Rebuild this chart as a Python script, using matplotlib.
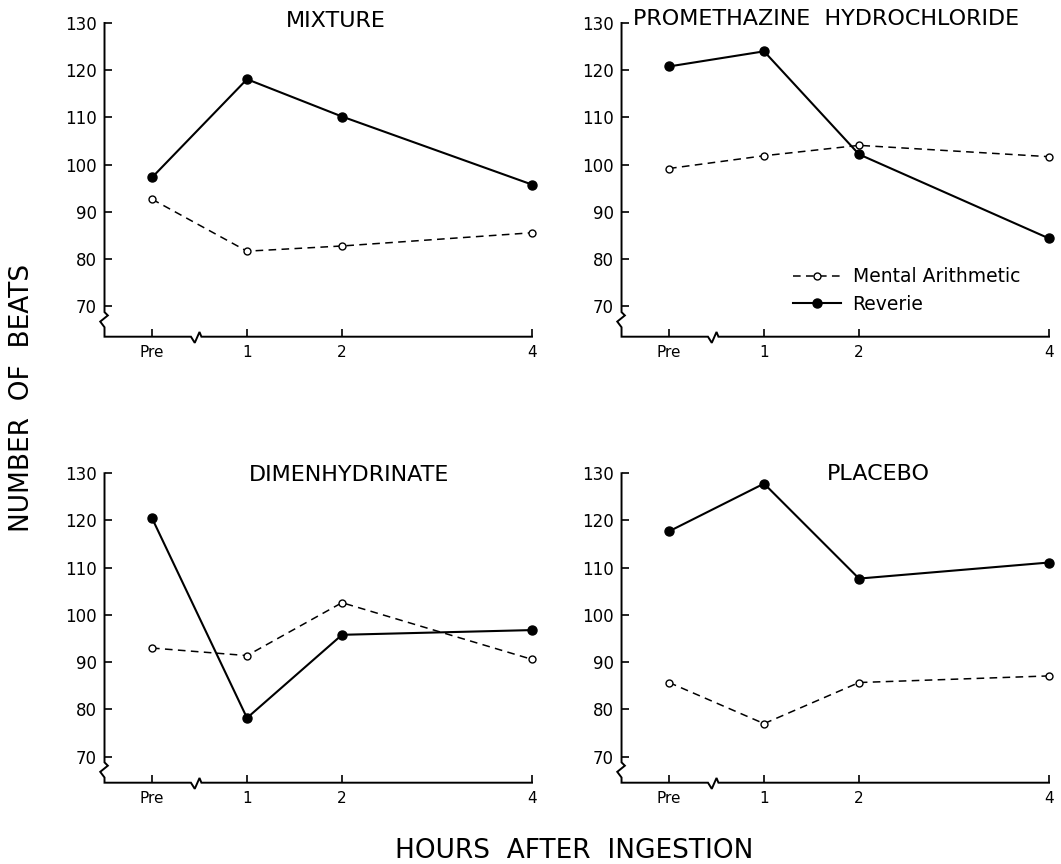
import matplotlib
matplotlib.use("Agg")
import matplotlib.pyplot as plt

hours = [0, 1, 2, 4]
hour_labels = ["Pre", "1", "2", "4"]
y_ticks = [70, 80, 90, 100, 110, 120, 130]

titles = ["MIXTURE", "PROMETHAZINE  HYDROCHLORIDE", "DIMENHYDRINATE", "PLACEBO"]

mixture_mental = [92.7, 81.7, 82.8, 85.6]
mixture_reverie = [97.3, 118.1, 110.2, 95.8]
prometh_mental = [99.2, 101.9, 104.1, 101.7]
prometh_reverie = [120.8, 124.0, 102.2, 84.4]
dimen_mental = [93.0, 91.4, 102.6, 90.6]
dimen_reverie = [120.5, 78.2, 95.8, 96.8]
placebo_mental = [85.7, 77.0, 85.7, 87.1]
placebo_reverie = [117.7, 127.8, 107.7, 111.1]

mental = [mixture_mental, prometh_mental, dimen_mental, placebo_mental]
reverie = [mixture_reverie, prometh_reverie, dimen_reverie, placebo_reverie]

plt.rcParams['font.family'] = ['DejaVu Sans']

fig = plt.figure(figsize=(10.61, 8.64), dpi=100)

# axes boxes [left, bottom, width, height] in figure fraction
boxes = [
    [0.0985, 0.6103, 0.4029, 0.3631],
    [0.5858, 0.6103, 0.4029, 0.3631],
    [0.0985, 0.0941, 0.4029, 0.3582],
    [0.5858, 0.0941, 0.4029, 0.3582],
]
ybottoms = [63.6, 63.6, 64.5, 64.5]
# title placement: (x, y, ha)
title_pos = [(1.94, 130.4, 'center'), (-0.38, 130.8, 'left'),
             (2.07, 129.7, 'center'), (2.2, 129.8, 'center')]

xl = -0.5
for i in range(4):
    ax = fig.add_axes(boxes[i])
    y0 = ybottoms[i]
    ax.set_xlim(xl, 4)
    ax.set_ylim(y0, 130)
    for s in ax.spines.values():
        s.set_visible(False)

    # hand-drawn axis frame with breaks
    fx = [xl, xl, xl + 0.035, xl - 0.045, xl, xl,
          0.41, 0.45, 0.50, 0.52, 4.0]
    fy = [130, 68.8, 68.1, 66.8, 65.6, y0,
          y0, y0 - 1.3, y0 + 1.0, y0, y0]
    ax.plot(fx, fy, color='black', lw=1.4, clip_on=False,
            solid_joinstyle='miter')

    m, = ax.plot(hours, mental[i], color='black', lw=1.1,
                 dashes=(5, 3.5), marker='o', markersize=5,
                 markerfacecolor='white', markeredgecolor='black',
                 markeredgewidth=1.0, clip_on=False, zorder=3)
    r, = ax.plot(hours, reverie[i], color='black', lw=1.5,
                 marker='o', markersize=6.5, markerfacecolor='black',
                 markeredgecolor='black', clip_on=False, zorder=4)

    ax.set_xticks(hours)
    ax.set_xticklabels(hour_labels)
    ax.set_yticks(y_ticks)
    ax.tick_params(axis='y', direction='in', length=5, width=1.2,
                   labelsize=12, pad=5.5, right=False)
    ax.tick_params(axis='x', direction='in', length=6, width=1.2,
                   labelsize=11, pad=6, top=False)

    tx, ty, ha = title_pos[i]
    ax.text(tx, ty, titles[i], ha=ha, va='center', fontsize=16)

    if i == 1:
        ax.legend([m, r], ["Mental Arithmetic", "Reverie"],
                  loc='center left', bbox_to_anchor=(1.3, 73.4),
                  bbox_transform=ax.transData, frameon=False,
                  fontsize=13.5, handlelength=2.6, handletextpad=0.6,
                  labelspacing=0.45, borderpad=0, borderaxespad=0)

fig.text(0.0212, 1 - 398 / 864, "NUMBER  OF  BEATS", rotation=90,
         ha='center', va='center', fontsize=19)
fig.text(0.541, 1 - 851 / 864, "HOURS  AFTER  INGESTION",
         ha='center', va='center', fontsize=19)

fig.savefig("out.png", dpi=100, facecolor='white')
